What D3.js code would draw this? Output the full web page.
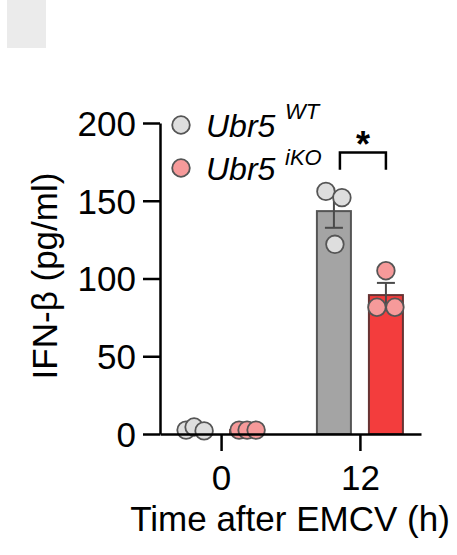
<!DOCTYPE html>
<html>
<head>
<meta charset="utf-8">
<script src="https://cdn.jsdelivr.net/npm/d3@7"></script>
<style>
  html, body { margin: 0; padding: 0; background: #fff; }
  svg { display: block; font-family: "Liberation Sans", Arial, sans-serif; }
</style>
</head>
<body>
<div id="chart"></div>
<script>
// IFN-beta at 0 and 12 h after EMCV, Ubr5 WT vs iKO
const times = ["0", "12"];
const genotypes = ["WT", "iKO"];
const wtValues = [[2.5, 4.5, 2], [156, 152, 122]];
const koValues = [[2.5, 2.5, 2.5], [105, 81.5, 81.5]];
const yTicks = [0, 50, 100, 150, 200];
const yLabel = "IFN-β (pg/ml)";
const xLabel = "Time after EMCV (h)";
const sigMark = "*";

const width = 457;
const height = 555;

const colors = {
  WT: { bar: "#a4a4a4", barStroke: "#555", dot: "#dedede" },
  iKO: { bar: "#f33d3d", barStroke: "#663333", dot: "#f69a9a" },
};

const svg = d3
  .select("#chart")
  .append("svg")
  .attr("width", width)
  .attr("height", height);

// grey placeholder block top-left
svg
  .append("rect")
  .attr("x", 7)
  .attr("y", 0)
  .attr("width", 39)
  .attr("height", 48)
  .attr("fill", "#ebebeb");

const y = d3.scaleLinear().domain([0, 200]).range([434, 123]);
const x = d3.scalePoint().domain(times).range([160, 421]).padding(0.44);

const barW = 34;
const dotR = 8.8;
const offset = { WT: -26, iKO: 26 };

const mean = (v) => d3.mean(v);
const sem = (v) => d3.deviation(v) / Math.sqrt(v.length);

const groups = [];
times.forEach((t, i) => {
  groups.push({ time: t, geno: "WT", values: wtValues[i] });
  groups.push({ time: t, geno: "iKO", values: koValues[i] });
});

// horizontal scatter so overlapping dots stay visible (px)
const spread = [
  [-9, -1, 9],
  [-8, 0, 9],
  [-8, 8, 1],
  [0, -9, 9],
];

const cx = (g) => x(g.time) + offset[g.geno];

// Bars
svg
  .append("g")
  .selectAll("rect")
  .data(groups)
  .enter()
  .append("rect")
  .attr("x", (g) => cx(g) - barW / 2)
  .attr("y", (g) => y(mean(g.values)))
  .attr("width", barW)
  .attr("height", (g) => y(0) - y(mean(g.values)))
  .attr("fill", (g) => colors[g.geno].bar)
  .attr("stroke", (g) => colors[g.geno].barStroke)
  .attr("stroke-width", 2);

// Error bars (mean ± SEM)
const err = svg
  .append("g")
  .attr("stroke", "#4a4a4a")
  .attr("stroke-width", 2)
  .selectAll("g")
  .data(groups)
  .enter()
  .append("g");

err
  .append("line")
  .attr("x1", cx)
  .attr("x2", cx)
  .attr("y1", (g) => y(mean(g.values) - sem(g.values)))
  .attr("y2", (g) => y(mean(g.values) + sem(g.values)));

[-1, 1].forEach((s) => {
  err
    .append("line")
    .attr("x1", (g) => cx(g) - 9)
    .attr("x2", (g) => cx(g) + 9)
    .attr("y1", (g) => y(mean(g.values) + s * sem(g.values)))
    .attr("y2", (g) => y(mean(g.values) + s * sem(g.values)));
});

// Individual points
groups.forEach((g, gi) => {
  svg
    .append("g")
    .selectAll("circle")
    .data(g.values)
    .enter()
    .append("circle")
    .attr("cx", (_v, i) => cx(g) + spread[gi][i])
    .attr("cy", (v) => y(v))
    .attr("r", dotR)
    .attr("fill", colors[g.geno].dot)
    .attr("stroke", "#555")
    .attr("stroke-width", 1.8);
});

// Axes
const yAxis = svg
  .append("g")
  .attr("transform", "translate(160,0)")
  .call(
    d3.axisLeft(y).tickValues(yTicks).tickSize(17).tickSizeOuter(0).tickPadding(7)
  );

const xAxis = svg
  .append("g")
  .attr("transform", `translate(0,${y(0)})`)
  .call(d3.axisBottom(x).tickSize(17).tickSizeOuter(0).tickPadding(14));

[yAxis, xAxis].forEach((a) => {
  a.selectAll("path, line").attr("stroke", "#000").attr("stroke-width", 2.5);
  a.selectAll("text")
    .attr("fill", "#000")
    .attr("font-size", "35px")
    .attr("font-family", "'Liberation Sans', Arial, sans-serif");
});
yAxis.selectAll("text").attr("dy", "0.35em");

// Axis titles
svg
  .append("text")
  .attr("transform", "rotate(-90)")
  .attr("x", -276)
  .attr("y", 57)
  .attr("text-anchor", "middle")
  .attr("font-size", "35px")
  .text(yLabel);

svg
  .append("text")
  .attr("x", 290)
  .attr("y", 531)
  .attr("text-anchor", "middle")
  .attr("font-size", "35px")
  .text(xLabel);

// Legend
const legend = svg
  .append("g")
  .selectAll("g")
  .data(genotypes)
  .enter()
  .append("g")
  .attr("transform", (_d, i) => `translate(0,${i * 43})`);

legend
  .append("circle")
  .attr("cx", 181)
  .attr("cy", 125)
  .attr("r", dotR)
  .attr("fill", (d) => colors[d].dot)
  .attr("stroke", "#555")
  .attr("stroke-width", 1.8);

legend
  .append("text")
  .attr("x", 206)
  .attr("y", 137)
  .attr("font-size", "32px")
  .attr("font-style", "italic")
  .text("Ubr5");

legend
  .append("text")
  .attr("x", 285)
  .attr("y", (_d, i) => 119 + i * 2.5)
  .attr("font-size", "22px")
  .attr("font-style", "italic")
  .text((d) => d);

// Significance bracket at 12 h
const bx0 = x("12") - 20;
const bx1 = x("12") + 26;
svg
  .append("path")
  .attr("d", `M${bx0},${y(170)}V${y(181)}H${bx1}V${y(170)}`)
  .attr("fill", "none")
  .attr("stroke", "#000")
  .attr("stroke-width", 2.5);

svg
  .append("text")
  .attr("x", (bx0 + bx1) / 2)
  .attr("y", 157)
  .attr("text-anchor", "middle")
  .attr("font-size", "36px")
  .attr("font-weight", "bold")
  .text(sigMark);
</script>
</body>
</html>
